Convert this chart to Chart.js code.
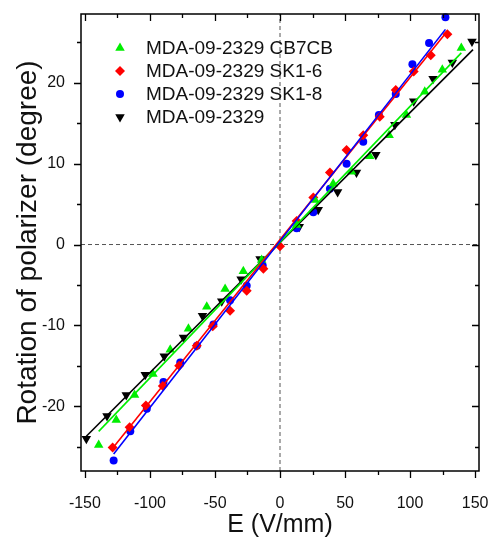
<!DOCTYPE html>
<html>
<head>
<meta charset="utf-8">
<script src="https://cdn.jsdelivr.net/npm/chart.js@4.4.0/dist/chart.umd.min.js"></script>
<style>
  html, body { margin: 0; padding: 0; background: #fff; }
  #wrap { width: 495px; height: 540px; }
</style>
</head>
<body>
<div id="wrap"><canvas id="rotChart" width="495" height="540"></canvas></div>
<script>
// Points: E in V/mm, rotation in degree
const cb7cbE   = [-139.4, -125.9, -111.8, -97.7, -84.4, -70.4, -56.3, -42.2, -28.2, -14.1, 12.9, 26.9, 40.9, 55.0, 69.0, 83.9, 97.2, 111.3, 124.8, 139.4];
const cb7cbRot = [-24.8, -21.7, -18.6, -16.0, -13.0, -10.4, -7.7, -5.5, -3.3, -1.9, 2.4, 5.5, 7.5, 9.0, 10.9, 13.5, 16.0, 18.9, 21.6, 24.3];

const sk16E   = [-128.7, -115.6, -103.1, -90.1, -77.5, -64.0, -51.7, -38.4, -25.6, -12.8, 0, 12.8, 25.6, 38.4, 51.2, 64.0, 76.7, 89.0, 102.8, 115.9, 128.7];
const sk16Rot = [-25.1, -22.6, -19.9, -17.5, -15.0, -12.5, -10.1, -8.2, -5.7, -3.0, -0.2, 2.9, 5.8, 8.9, 11.7, 13.5, 15.8, 19.1, 21.4, 23.4, 26.0];

const sk18E   = [-127.9, -115.1, -102.4, -89.6, -76.7, -63.9, -51.2, -38.4, -25.6, -13.3, 12.8, 25.6, 38.4, 51.2, 64.0, 76.0, 89.0, 101.8, 114.6, 127.2];
const sk18Rot = [-26.7, -23.1, -20.3, -17.0, -14.6, -12.5, -9.9, -6.9, -5.1, -2.6, 2.0, 4.0, 6.9, 10.0, 12.7, 16.0, 18.6, 22.3, 24.9, 28.1];

const pureE   = [-148.9, -133.0, -118.2, -103.6, -89.0, -74.2, -59.6, -44.8, -29.9, -15.3, 14.8, 29.4, 44.3, 58.8, 73.7, 88.3, 102.8, 117.7, 132.5, 147.6];
const pureRot = [-24.0, -21.2, -18.6, -16.1, -13.8, -11.5, -8.8, -7.0, -4.3, -1.8, 2.2, 4.3, 6.5, 8.9, 11.1, 14.8, 17.7, 20.5, 22.5, 25.1];

// linear fit lines, end points
const cb7cbFitE = [-139.4, 139.4];
const cb7cbFitRot = [-23.1, 23.7];
const sk16FitE = [-128.7, 128.7];
const sk16FitRot = [-25.2, 26.4];
const sk18FitE = [-127.9, 127.2];
const sk18FitRot = [-25.9, 26.6];
const pureFitE = [-148.9, 148.4];
const pureFitRot = [-23.7, 24.1];

const seriesNames = ["MDA-09-2329 CB7CB", "MDA-09-2329 SK1-6", "MDA-09-2329 SK1-8", "MDA-09-2329"];

const eMin = -153, eMax = 153;
const rotMin = -28, rotMax = 28.5;

const FONT = "Arial, 'Liberation Sans', sans-serif";

const toPts = (xs, ys) => xs.map((x, i) => ({ x: x, y: ys[i] }));

function markerSet(label, xs, ys, color, style, radius, rotation) {
  return {
    type: "scatter",
    label: label,
    data: toPts(xs, ys),
    backgroundColor: color,
    borderColor: color,
    borderWidth: 0,
    pointStyle: style,
    pointRadius: radius,
    pointRotation: rotation || 0,
    showLine: false,
    clip: false,
    order: 2
  };
}

function fitSet(xs, ys, color) {
  return {
    type: "line",
    data: toPts(xs, ys),
    borderColor: color,
    borderWidth: 1.6,
    pointRadius: 0,
    fill: false,
    order: 1
  };
}

function zeroSet(xs, ys) {
  return {
    type: "line",
    data: toPts(xs, ys),
    borderColor: "#555",
    borderWidth: 1,
    borderDash: [4, 3],
    pointRadius: 0,
    fill: false,
    order: 3
  };
}

const markerSets = [
  markerSet(seriesNames[0], cb7cbE, cb7cbRot, "#00ee00", "triangle", 5.5),
  markerSet(seriesNames[1], sk16E, sk16Rot, "#ff0000", "rectRot", 5),
  markerSet(seriesNames[2], sk18E, sk18Rot, "#0000ff", "circle", 4),
  markerSet(seriesNames[3], pureE, pureRot, "#000000", "triangle", 5.5, 180)
];

// legend drawn inside the plot, top left
const insideLegend = {
  id: "insideLegend",
  afterDatasetsDraw(chart) {
    const ctx = chart.ctx;
    ctx.save();
    ctx.font = "19px " + FONT;
    ctx.textBaseline = "middle";
    markerSets.forEach((ds, i) => {
      const y = 48 + i * 23;
      ctx.fillStyle = ds.backgroundColor;
      ctx.strokeStyle = ds.borderColor;
      Chart.helpers.drawPoint(ctx, { pointStyle: ds.pointStyle, radius: ds.pointRadius, rotation: ds.pointRotation, borderWidth: 0 }, 120, y);
      ctx.fillStyle = "#111";
      ctx.fillText(ds.label, 146, y + 1);
    });
    ctx.restore();
  }
};

// box frame with ticks out on bottom/left, mirrored inward on top/right
const frameTicks = {
  id: "frameTicks",
  afterDatasetsDraw(chart) {
    const { ctx, chartArea: a, scales } = chart;
    ctx.save();
    ctx.strokeStyle = "#000";
    ctx.lineWidth = 1.5;
    ctx.strokeRect(a.left, a.top, a.right - a.left, a.bottom - a.top);
    ctx.lineWidth = 1.3;
    ctx.beginPath();
    scales.x.ticks.forEach(t => {
      if (Math.abs(t.value % 25) > 1e-6) return;
      const len = Math.abs(t.value % 50) < 1e-6 ? 7 : 4;
      const px = Math.round(scales.x.getPixelForValue(t.value)) + 0.5;
      ctx.moveTo(px, a.bottom); ctx.lineTo(px, a.bottom + len);
      ctx.moveTo(px, a.top); ctx.lineTo(px, a.top + len);
    });
    scales.y.ticks.forEach(t => {
      if (Math.abs(t.value % 5) > 1e-6) return;
      const len = Math.abs(t.value % 10) < 1e-6 ? 7 : 4;
      const py = Math.round(scales.y.getPixelForValue(t.value)) + 0.5;
      ctx.moveTo(a.left - len, py); ctx.lineTo(a.left, py);
      ctx.moveTo(a.right - len, py); ctx.lineTo(a.right, py);
    });
    ctx.stroke();
    ctx.restore();
  }
};

new Chart(document.getElementById("rotChart"), {
  data: {
    datasets: [
      fitSet(sk18FitE, sk18FitRot, "#0000ff"),
      fitSet(sk16FitE, sk16FitRot, "#ff0000"),
      fitSet(cb7cbFitE, cb7cbFitRot, "#00ee00"),
      fitSet(pureFitE, pureFitRot, "#000000"),
      ...markerSets,
      zeroSet([0, 0], [rotMin, rotMax]),
      zeroSet([eMin, eMax], [0, 0])
    ]
  },
  options: {
    responsive: false,
    animation: false,
    layout: { padding: { top: 14, right: 16, left: 0, bottom: 0 } },
    plugins: {
      legend: { display: false },
      tooltip: { enabled: false }
    },
    scales: {
      x: {
        type: "linear",
        min: eMin,
        max: eMax,
        grid: { display: false, drawTicks: false },
        border: { display: false },
        ticks: {
          stepSize: 25,
          includeBounds: false,
          autoSkip: false,
          maxRotation: 0,
          padding: 23,
          color: "#111",
          font: { family: FONT, size: 16 },
          callback: v => (Math.abs(v % 50) < 1e-6 ? String(v) : "")
        },
        title: {
          display: true,
          text: "E (V/mm)",
          color: "#111",
          font: { family: FONT, size: 25 },
          padding: { top: 0, bottom: 0 }
        },
        afterFit: s => { s.height = 69; s.paddingLeft = 0; s.paddingRight = 0; }
      },
      y: {
        type: "linear",
        min: rotMin,
        max: rotMax,
        grid: { display: false, drawTicks: false },
        border: { display: false },
        ticks: {
          stepSize: 5,
          includeBounds: false,
          autoSkip: false,
          padding: 16,
          color: "#111",
          font: { family: FONT, size: 16 },
          callback: v => (Math.abs(v % 10) < 1e-6 ? String(v) : "")
        },
        title: {
          display: true,
          text: "Rotation of polarizer (degree)",
          color: "#111",
          font: { family: FONT, size: 28 },
          padding: { top: 11, bottom: 0 }
        },
        afterFit: s => { s.width = 81; s.paddingTop = 0; s.paddingBottom = 0; }
      }
    }
  },
  plugins: [frameTicks, insideLegend]
});
</script>
</body>
</html>
